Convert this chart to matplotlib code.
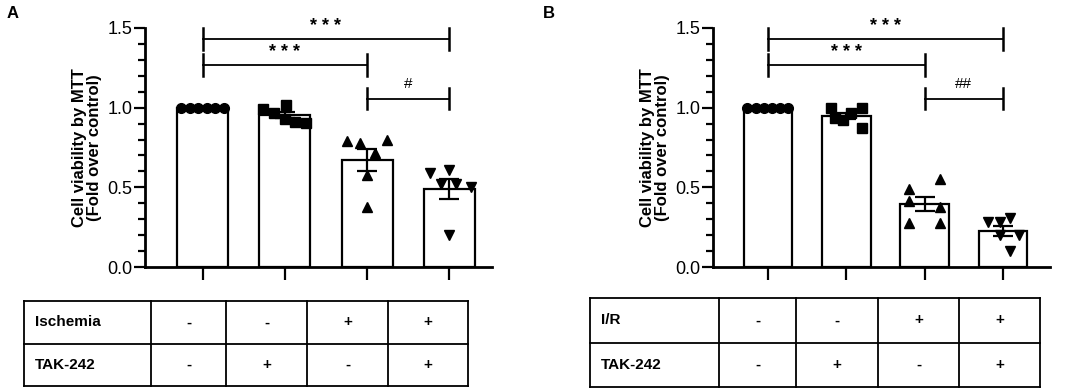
#!/usr/bin/env python3

import numpy as np
import matplotlib
matplotlib.use("Agg")
import matplotlib.pyplot as plt
from matplotlib.ticker import MultipleLocator, FormatStrFormatter

plt.rcParams["font.family"] = ["Liberation Sans", "DejaVu Sans"]

# data (fold over control)
ctrl_a = [1.0, 1.0, 1.0, 1.0, 1.0, 1.0]
tak_a = [0.99, 0.965, 1.015, 0.93, 0.91, 0.905]
isch_a = [0.79, 0.78, 0.80, 0.715, 0.58, 0.375]
isch_tak_a = [0.59, 0.61, 0.52, 0.52, 0.50, 0.20]

ctrl_b = [1.0, 1.0, 1.0, 1.0, 1.0, 1.0]
tak_b = [1.0, 0.935, 0.92, 0.965, 1.0, 0.87]
ir_b = [0.49, 0.55, 0.415, 0.375, 0.275, 0.275]
ir_tak_b = [0.28, 0.28, 0.31, 0.20, 0.20, 0.10]

markers = ["o", "s", "^", "v"]
# significance: (group i, group j, label)
sig_a = [(0, 3, "* * *"), (0, 2, "* * *"), (2, 3, "#")]
sig_b = [(0, 3, "* * *"), (0, 2, "* * *"), (2, 3, "##")]

table_a_rows = ["Ischemia", "TAK-242"]
table_b_rows = ["I/R", "TAK-242"]
table_a_vals = [["-", "-", "+", "+"], ["-", "+", "-", "+"]]
table_b_vals = [["-", "-", "+", "+"], ["-", "+", "-", "+"]]

# horizontal spread of the dots inside each bar
jitter = {0: [-0.26, -0.155, -0.05, 0.05, 0.155, 0.26],
          1: [-0.26, -0.13, 0.01, 0.0, 0.13, 0.26],
          2: [-0.24, -0.08, 0.24, 0.1, 0.0, 0.0],
          3: [-0.24, 0.0, -0.1, 0.08, 0.26, 0.0]}
jitter_b = {0: [-0.26, -0.155, -0.05, 0.05, 0.155, 0.26],
            1: [-0.2, -0.14, -0.04, 0.06, 0.2, 0.2],
            2: [-0.2, 0.2, -0.2, 0.2, -0.2, 0.2],
            3: [-0.19, -0.04, 0.09, 0.2, -0.04, 0.09]}

LW = 1.6


def bar_panel(ax, groups, jit, sig, xright):
    for i, vals in enumerate(groups):
        v = np.array(vals)
        m = v.mean()
        sem = v.std(ddof=1) / np.sqrt(len(v))
        ax.bar(i, m, width=0.62, color="white", edgecolor="black",
               linewidth=LW, zorder=2)
        ax.plot(np.array(jit[i]) + i, v, linestyle="none", marker=markers[i],
                color="black", markersize=7, zorder=3, clip_on=False)
        if sem > 0:
            ax.errorbar(i, m, yerr=sem, color="black", capsize=7,
                        elinewidth=LW, capthick=LW, zorder=4)
    ax.set_xlim(-0.7, xright)
    ax.set_ylim(0, 1.5)
    ax.set_xticks(range(len(groups)))
    ax.set_xticklabels([])
    ax.set_yticks([0, 0.5, 1.0, 1.5])
    ax.yaxis.set_minor_locator(MultipleLocator(0.1))
    ax.yaxis.set_major_formatter(FormatStrFormatter("%.1f"))
    ax.tick_params(axis="y", which="major", length=8, width=LW, labelsize=13,
                   pad=1)
    ax.tick_params(axis="y", which="minor", length=5, width=LW)
    ax.tick_params(axis="x", length=9, width=LW)
    for s in ["top", "right"]:
        ax.spines[s].set_visible(False)
    for s in ["left", "bottom"]:
        ax.spines[s].set_linewidth(2.0)
    ax.set_ylabel("Cell viability by MTT\n(Fold over control)",
                  fontsize=12, fontweight="bold", labelpad=4, linespacing=1.0)

    levels = [1.43, 1.268, 1.057]
    text_y = [1.48, 1.315, 1.124]
    for (a, b, lab), y, ty in zip(sig, levels, text_y):
        ax.plot([a, b], [y, y], color="black", lw=1.3, clip_on=False)
        for xx in (a, b):
            ax.plot([xx, xx], [y - 0.068, y + 0.068], color="black", lw=1.8,
                    clip_on=False)
        if "*" in lab:
            ax.text((a + b) / 2, ty, lab, ha="center", va="baseline",
                    fontsize=13, fontweight="bold", clip_on=False)
        else:
            ax.text((a + b) / 2, ty, lab, ha="center", va="baseline",
                    fontsize=11, clip_on=False)


def table(fig, box, cols, rows, vals):
    x0, x1, y0, y1 = box  # pixel coords
    W, H = 1084.0, 391.0
    tax = fig.add_axes([x0 / W, 1 - y1 / H, (x1 - x0) / W, (y1 - y0) / H])
    tax.set_xlim(x0, x1)
    tax.set_ylim(y1, y0)
    tax.axis("off")
    ymid = (y0 + y1) / 2
    edges = [x0] + cols + [x1]
    for xx in edges:
        tax.plot([xx, xx], [y0, y1], color="black", lw=1.3, clip_on=False)
    for yy in (y0, ymid, y1):
        tax.plot([x0, x1], [yy, yy], color="black", lw=1.3, clip_on=False)
    row_c = [(y0 + ymid) / 2, (ymid + y1) / 2]
    for r, name in enumerate(rows):
        tax.text(x0 + 11, row_c[r], name, ha="left", va="center",
                 fontsize=11, fontweight="bold")
        for c, s in enumerate(vals[r]):
            tax.text((edges[c + 1] + edges[c + 2]) / 2, row_c[r], s,
                     ha="center", va="center", fontsize=11,
                     fontweight="bold")


if __name__ == "__main__":
    fig = plt.figure(figsize=(10.84, 3.91), dpi=100)
    W, H = 1084.0, 391.0
    ax1 = fig.add_axes([145 / W, 1 - 267 / H, (492 - 145) / W, 239 / H])
    ax2 = fig.add_axes([713 / W, 1 - 267 / H, (1050 - 713) / W, 239 / H])

    bar_panel(ax1, [ctrl_a, tak_a, isch_a, isch_tak_a], jitter, sig_a, 3.52)
    bar_panel(ax2, [ctrl_b, tak_b, ir_b, ir_tak_b], jitter_b, sig_b, 3.6)

    table(fig, (24, 468, 301, 386), [151, 226, 307, 388],
          table_a_rows, table_a_vals)
    table(fig, (590, 1040, 298, 387), [719, 796, 878, 959],
          table_b_rows, table_b_vals)

    fig.text(7 / W, 1 - 14 / H, "A", fontsize=12, fontweight="bold",
             va="center", ha="left")
    fig.text(543 / W, 1 - 14 / H, "B", fontsize=12, fontweight="bold",
             va="center", ha="left")

    plt.savefig("out.png", dpi=100)
